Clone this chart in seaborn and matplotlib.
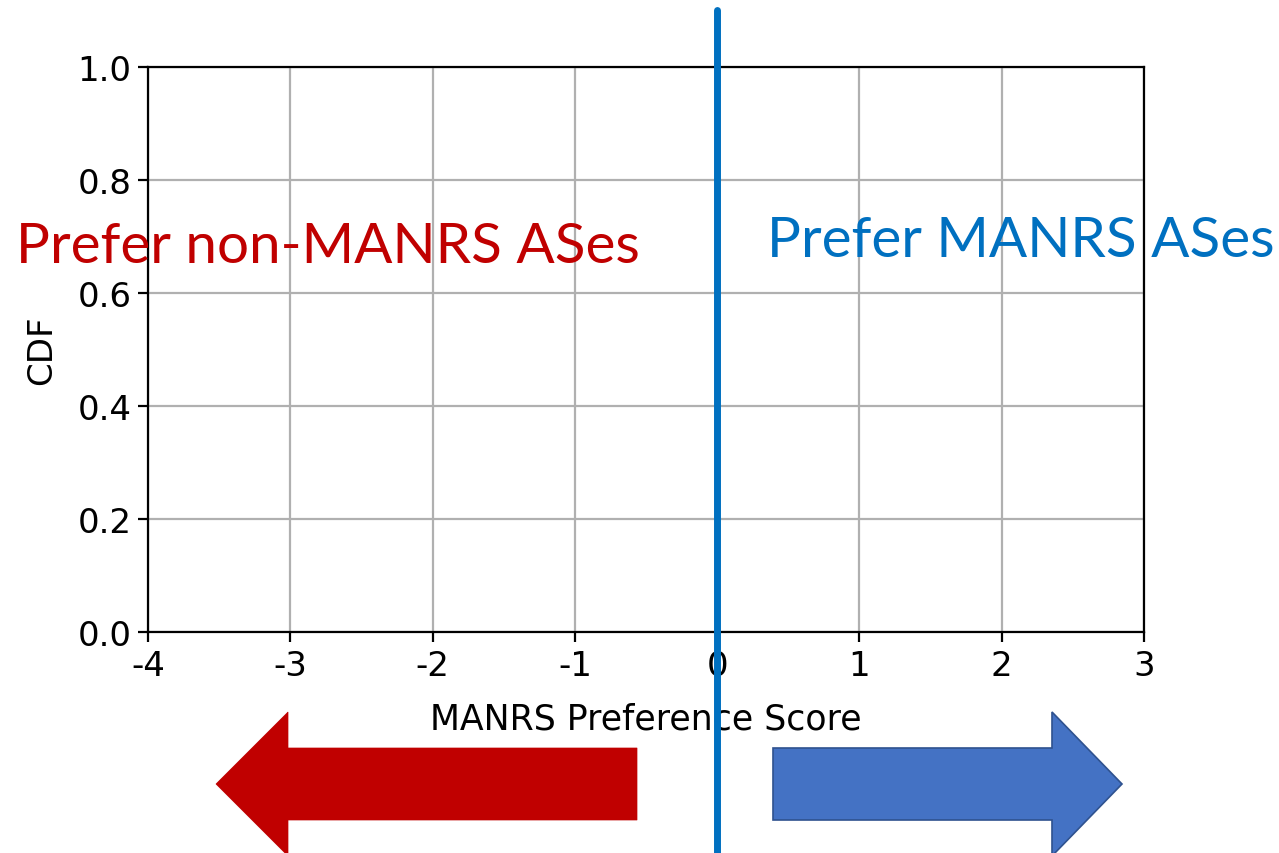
import matplotlib
matplotlib.use("Agg")
import matplotlib.pyplot as plt
from matplotlib.patches import FancyArrow
import seaborn as sns

# data / labels
x_ticks = [-4, -3, -2, -1, 0, 1, 2, 3]
x_tick_labels = ["-4", "-3", "-2", "-1", "0", "1", "2", "3"]
y_ticks = [0.0, 0.2, 0.4, 0.6, 0.8, 1.0]
y_tick_labels = ["0.0", "0.2", "0.4", "0.6", "0.8", "1.0"]
split_score = 0
left_label = "Prefer non-MANRS ASes"
right_label = "Prefer MANRS ASes"

RED = "#C00000"
BLUE = "#0070C0"

sns.set_theme(style="white")
plt.rcParams["font.family"] = ["DejaVu Sans"]
plt.rcParams["text.color"] = "black"
plt.rcParams["axes.labelcolor"] = "black"
plt.rcParams["xtick.color"] = "black"
plt.rcParams["ytick.color"] = "black"

fig = plt.figure(figsize=(12.79, 8.54), dpi=100)
ax = fig.add_axes([0.1157, 0.2588, 0.7788, 0.6616])

ax.set_xlim(-4, 3)
ax.set_ylim(0, 1)
ax.set_xticks(x_ticks)
ax.set_xticklabels(x_tick_labels)
ax.set_yticks(y_ticks)
ax.set_yticklabels(y_tick_labels)
ax.tick_params(axis="both", labelsize=24.5, length=7, width=1.6, colors="black",
               direction="out", bottom=True, left=True, pad=5)
for sp in ax.spines.values():
    sp.set_color("black")
    sp.set_linewidth(1.6)
ax.grid(True, color="#b0b0b0", linewidth=1.6)
ax.set_axisbelow(True)
ax.set_xlabel("MANRS Preference Score", fontsize=25, labelpad=14)
ax.set_ylabel("CDF", fontsize=24.5, labelpad=14)

# split line, runs past the axes
ax.axvline(split_score, ymin=-0.392, ymax=1.1, color=BLUE, linewidth=5,
           clip_on=False, zorder=5)

fig.text(16 / 1279, 1 - 263 / 854, left_label, color=RED, fontsize=40.8,
         family=["Lato", "DejaVu Sans"], ha="left", va="baseline")
fig.text(767 / 1279, 1 - 257 / 854, right_label, color=BLUE, fontsize=40.8,
         family=["Lato", "DejaVu Sans"], ha="left", va="baseline")

# arrows under the axis
yc = 1 - 785 / 854
fig.patches.append(FancyArrow(637 / 1279, yc, -(637 - 216) / 1279, 0,
                              width=72 / 854, head_width=144 / 854,
                              head_length=72 / 1279, length_includes_head=True,
                              transform=fig.transFigure, facecolor=RED,
                              edgecolor=RED, linewidth=0.5))
fig.patches.append(FancyArrow(773 / 1279, yc, (1122 - 773) / 1279, 0,
                              width=72 / 854, head_width=144 / 854,
                              head_length=70 / 1279, length_includes_head=True,
                              transform=fig.transFigure, facecolor="#4472C4",
                              edgecolor="#2F528F", linewidth=1.2))

fig.savefig("out.png", dpi=100)
